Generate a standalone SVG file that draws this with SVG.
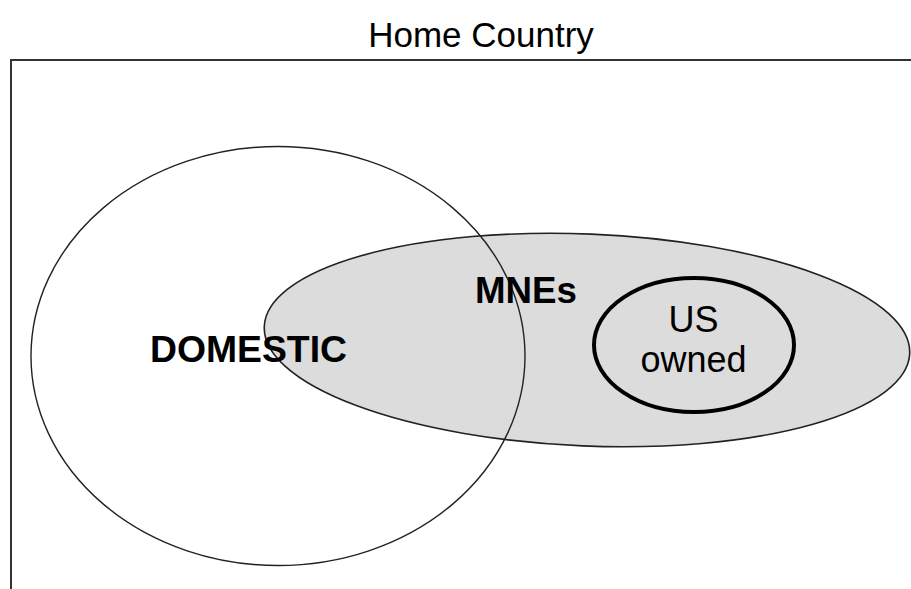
<svg xmlns="http://www.w3.org/2000/svg" width="911" height="589" viewBox="0 0 911 589">
<style>
.t{font-family:"Liberation Sans",Arial,sans-serif;fill:#000}
.b{font-weight:bold}
</style>
<rect width="911" height="589" fill="#fff"/>
<g id="home-country">
<rect x="11" y="60" width="950" height="600" fill="none" stroke="#333" stroke-width="2"/>
<text class="t" x="481" y="47" font-size="35" text-anchor="middle">Home Country</text>
</g>
<g id="mnes">
<ellipse cx="587" cy="340" rx="323" ry="106" transform="rotate(2.4 587 340)" fill="#dcdcdc" stroke="#222" stroke-width="1.6"/>
</g>
<g id="domestic">
<ellipse cx="278" cy="356" rx="247" ry="209.5" fill="none" stroke="#222" stroke-width="1.4"/>
<text class="t b" x="248.5" y="362" font-size="36" text-anchor="middle" textLength="197" lengthAdjust="spacingAndGlyphs">DOMESTIC</text>
</g>
<text class="t b" x="526" y="303" font-size="36" text-anchor="middle" textLength="102" lengthAdjust="spacingAndGlyphs">MNEs</text>
<g id="us-owned">
<ellipse cx="694" cy="345" rx="100" ry="67" fill="none" stroke="#000" stroke-width="4"/>
<text class="t" x="693.5" y="332" font-size="36" text-anchor="middle">US</text>
<text class="t" x="693.5" y="372" font-size="36" text-anchor="middle">owned</text>
</g>
</svg>
